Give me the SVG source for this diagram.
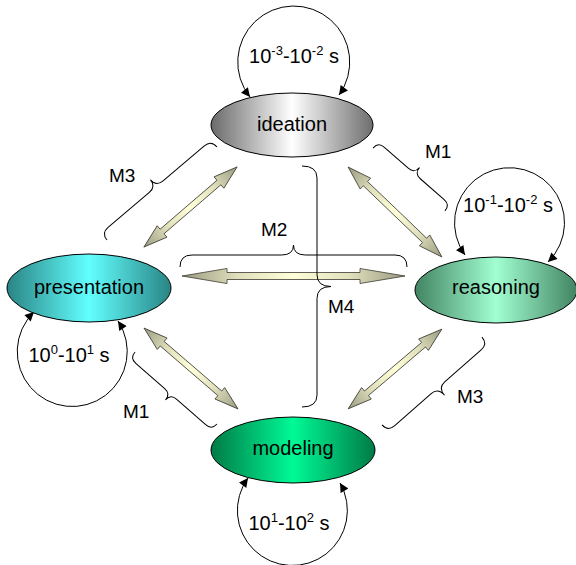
<svg xmlns="http://www.w3.org/2000/svg" width="576" height="565" viewBox="0 0 576 565">
<style>
text{font-family:"Liberation Sans",Arial,sans-serif;fill:#000}
.lbl{font-size:20px;text-anchor:middle}
.ml{font-size:19px}
.node{stroke:#000;stroke-width:1}
.loop{fill:none;stroke:#000;stroke-width:1;marker-start:url(#ah);marker-end:url(#ah)}
.arr{fill:url(#ag);stroke:#3a3a30;stroke-width:0.8;stroke-linejoin:miter}
.brace{fill:none;stroke:#000;stroke-width:1}
</style>
<defs>
<linearGradient id="gI" x1="0" y1="0" x2="1" y2="0"><stop offset="0" stop-color="#6a6a6a"/><stop offset="0.5" stop-color="#ffffff"/><stop offset="1" stop-color="#6e6e6e"/></linearGradient>
<linearGradient id="gP" x1="0" y1="0" x2="1" y2="0"><stop offset="0" stop-color="#2a8484"/><stop offset="0.5" stop-color="#62ffff"/><stop offset="1" stop-color="#2a8484"/></linearGradient>
<linearGradient id="gR" x1="0" y1="0" x2="1" y2="0"><stop offset="0" stop-color="#428462"/><stop offset="0.5" stop-color="#a2ffd2"/><stop offset="1" stop-color="#428462"/></linearGradient>
<linearGradient id="gM" x1="0" y1="0" x2="1" y2="0"><stop offset="0" stop-color="#007a46"/><stop offset="0.5" stop-color="#00fa96"/><stop offset="1" stop-color="#007a46"/></linearGradient>
<linearGradient id="ag" x1="0" y1="0" x2="1" y2="0"><stop offset="0" stop-color="#9a9a82"/><stop offset="0.25" stop-color="#e0e0bc"/><stop offset="0.5" stop-color="#ffffda"/><stop offset="0.75" stop-color="#e0e0bc"/><stop offset="1" stop-color="#9a9a82"/></linearGradient>
<marker id="ah" viewBox="0 0 10 10" refX="10" refY="5" markerWidth="11" markerHeight="9" markerUnits="userSpaceOnUse" orient="auto-start-reverse"><path d="M0,0 L10,5 L0,10 z" fill="#000"/></marker>
</defs>

<g id="connectors">
<path class="loop" d="M250,97 A56 56 0 1 1 339,95"/>
<path class="loop" d="M34,312 A55 55 0 1 0 118,321"/>
<path class="loop" d="M465,255 A55 55 0 1 1 548,262"/>
<path class="loop" d="M248,478 A55 55 0 1 0 340,483"/>
<path class="arr" transform="translate(190.5,207) rotate(-40.7)" d="M-61.5,0 L-37.5,-7.5 L-37.5,-3 L37.5,-3 L37.5,-7.5 L61.5,0 L37.5,7.5 L37.5,3 L-37.5,3 L-37.5,7.5 Z"/>
<path class="arr" transform="translate(395,212) rotate(43.8)" d="M-65,0 L-41,-7.5 L-41,-3 L41,-3 L41,-7.5 L65,0 L41,7.5 L41,3 L-41,3 L-41,7.5 Z"/>
<path class="arr" transform="translate(293.5,276)" d="M-111.5,0 L-66.5,-7.5 L-66.5,-3.5 L66.5,-3.5 L66.5,-7.5 L111.5,0 L66.5,7.5 L66.5,3.5 L-66.5,3.5 L-66.5,7.5 Z"/>
<path class="arr" transform="translate(191,368.5) rotate(40.7)" d="M-62,0 L-38,-7.5 L-38,-3 L38,-3 L38,-7.5 L62,0 L38,7.5 L38,3 L-38,3 L-38,7.5 Z"/>
<path class="arr" transform="translate(395,369) rotate(-40.4)" d="M-61.5,0 L-37.5,-7.5 L-37.5,-3 L37.5,-3 L37.5,-7.5 L61.5,0 L37.5,7.5 L37.5,3 L-37.5,3 L-37.5,7.5 Z"/>
</g>

<g id="braces">
<path class="brace" transform="translate(293.5,267)" d="M-113.5,0 Q-113.5,-12 -101.5,-12 L-12,-12 Q0,-12 0,-22 Q0,-12 12,-12 L101.5,-12 Q113.5,-12 113.5,0"/>
<path class="brace" transform="translate(302,286.5) rotate(90)" d="M-120.5,0 Q-120.5,-15 -108.5,-15 L-12,-15 Q0,-15 0,-29 Q0,-15 12,-15 L108.5,-15 Q120.5,-15 120.5,0"/>
<path class="brace" transform="translate(162,193.5) rotate(-40.2)" d="M-72,0 Q-72,-9 -63,-9 L-9,-9 Q0,-9 0,-18 Q0,-9 9,-9 L63,-9 Q72,-9 72,0"/>
<path class="brace" transform="translate(409,179.5) rotate(41.2)" d="M-47.75,0 Q-47.75,-8 -39.75,-8 L-8,-8 Q0,-8 0,-16 Q0,-8 8,-8 L39.75,-8 Q47.75,-8 47.75,0"/>
<path class="brace" transform="translate(176,388) rotate(-138.7)" d="M-54.5,0 Q-54.5,-8 -46.5,-8 L-8,-8 Q0,-8 0,-16 Q0,-8 8,-8 L46.5,-8 Q54.5,-8 54.5,0"/>
<path class="brace" transform="translate(432,381) rotate(138.7)" d="M-66.5,0 Q-66.5,-9 -57.5,-9 L-9,-9 Q0,-9 0,-19 Q0,-9 9,-9 L57.5,-9 Q66.5,-9 66.5,0"/>
<text class="ml" x="109" y="182">M3</text>
<text class="ml" x="425" y="158">M1</text>
<text class="ml" x="261" y="236">M2</text>
<text class="ml" x="328" y="313">M4</text>
<text class="ml" x="123" y="418">M1</text>
<text class="ml" x="457" y="403">M3</text>
</g>

<g id="timescales">
<text class="lbl" x="294" y="63">10<tspan dy="-8" font-size="13">-3</tspan><tspan dy="8">-10</tspan><tspan dy="-8" font-size="13">-2</tspan><tspan dy="8"> s</tspan></text>
<text class="lbl" x="69" y="362">10<tspan dy="-8" font-size="13">0</tspan><tspan dy="8">-10</tspan><tspan dy="-8" font-size="13">1</tspan><tspan dy="8"> s</tspan></text>
<text class="lbl" x="508" y="212">10<tspan dy="-8" font-size="13">-1</tspan><tspan dy="8">-10</tspan><tspan dy="-8" font-size="13">-2</tspan><tspan dy="8"> s</tspan></text>
<text class="lbl" x="289" y="530">10<tspan dy="-8" font-size="13">1</tspan><tspan dy="8">-10</tspan><tspan dy="-8" font-size="13">2</tspan><tspan dy="8"> s</tspan></text>
</g>

<g id="ideation">
<ellipse class="node" cx="292" cy="125" rx="81" ry="32" fill="url(#gI)"/>
<text class="lbl" x="292" y="131">ideation</text>
</g>
<g id="presentation">
<ellipse class="node" cx="89" cy="288" rx="82" ry="34" fill="url(#gP)"/>
<text class="lbl" x="89" y="294">presentation</text>
</g>
<g id="reasoning">
<ellipse class="node" cx="496" cy="290" rx="81" ry="33" fill="url(#gR)"/>
<text class="lbl" x="496" y="294">reasoning</text>
</g>
<g id="modeling">
<ellipse class="node" cx="293" cy="450" rx="82" ry="33" fill="url(#gM)"/>
<text class="lbl" x="293" y="455">modeling</text>
</g>
</svg>
